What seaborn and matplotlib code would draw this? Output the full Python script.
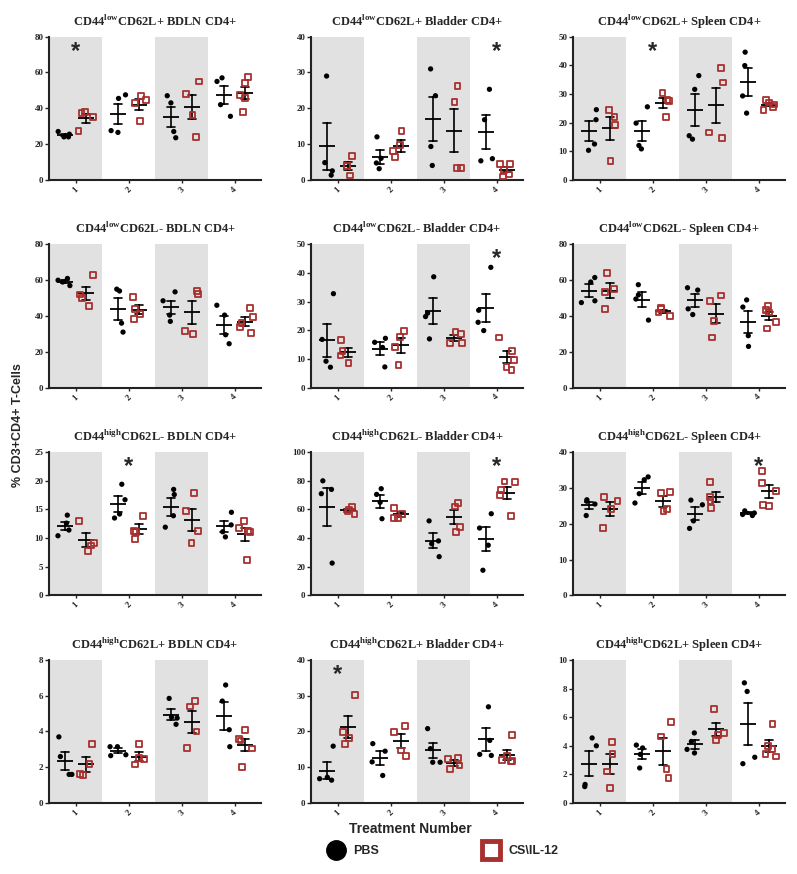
import matplotlib
matplotlib.use("Agg")
import matplotlib.pyplot as plt
import matplotlib.transforms as mtransforms
from matplotlib.lines import Line2D
import numpy as np
import pandas as pd
import seaborn as sns

treatments = ["1", "2", "3", "4"]
groups = ["PBS", "CS\\IL-12"]

# row 1: CD44 low CD62L+
low_pos_bdln_pbs = [[27, 25.5, 24, 24], [47.5, 45.5, 26.5, 27.5], [47, 43, 27, 23.5], [57, 55, 42, 35.5]]
low_pos_bdln_cs = [[37.5, 37.8, 35, 27.2], [47, 44.5, 43, 33], [55, 48, 36, 24], [57.5, 54, 47.5, 45.5, 38]]
low_pos_bladder_pbs = [[29, 4.8, 2.5, 1.3], [12, 6, 4.7, 3.1], [31, 23.5, 9.3, 4], [25.3, 16.8, 5.9, 5.3]]
low_pos_bladder_cs = [[6.6, 3.8, 3.8, 1.2], [13.7, 9.7, 8, 6.4], [26.2, 21.7, 3.3, 3.4], [4.5, 4.3, 2.8, 1.5, 0.9]]
low_pos_spleen_pbs = [[24.5, 21, 12.5, 10.3], [25.5, 19.8, 12, 10.8], [36.4, 31.6, 15.4, 14.2], [44.6, 39.9, 29.3, 23.3]]
low_pos_spleen_cs = [[24.5, 22, 19, 6.6], [30.2, 28, 27.5, 21.8], [39, 34, 16.5, 14.6], [28, 27, 26.3, 25.5, 24.5]]

# row 2: CD44 low CD62L-
low_neg_bdln_pbs = [[61, 60, 59, 57], [55, 54, 36, 31], [53.5, 48.5, 40.5, 37], [46, 40.5, 29.5, 24.5]]
low_neg_bdln_cs = [[63, 52, 50, 45.5], [50.5, 44, 41, 38.5], [54, 52.5, 31.5, 30], [44.5, 39.5, 36, 34, 30.5]]
low_neg_bladder_pbs = [[32.8, 16.8, 9.2, 7.1], [17.2, 15.8, 14, 7.2], [38.7, 26, 24.8, 17], [42, 27, 22.8, 19.9]]
low_neg_bladder_cs = [[16.5, 12.8, 11.2, 8.6], [19.8, 17.6, 14.1, 7.8], [19.3, 18.7, 15.6, 15.6], [17.5, 12.7, 9.7, 7.2, 6]]
low_neg_spleen_pbs = [[61.5, 59, 48.5, 47.5], [57.5, 51.8, 49.5, 37.7], [55.8, 54.5, 44, 40.8], [49, 45, 29, 23]]
low_neg_spleen_cs = [[64, 55, 53.5, 44], [44.3, 44, 42, 40], [51.5, 48.5, 37, 28], [45.5, 43.5, 42, 36.5, 33]]

# row 3: CD44 high CD62L-
high_neg_bdln_pbs = [[14, 12.6, 11.4, 10.4], [19.4, 16.7, 14.2, 13.5], [18.5, 17.6, 13.9, 11.9], [14.5, 12.3, 11.1, 10.2]]
high_neg_bdln_cs = [[13, 9.2, 8.7, 7.7], [13.9, 11.2, 11.1, 9.9], [17.8, 14.7, 11.2, 9.1], [13, 11.8, 11.3, 11, 6.2]]
high_neg_bladder_pbs = [[80, 74, 71, 22.5], [74.5, 70.5, 65, 53.5], [52, 38, 36, 27], [57, 47, 35, 17.5]]
high_neg_bladder_cs = [[62, 60, 58.5, 57], [61, 57, 54, 54], [64.5, 62, 48, 44.5], [79.5, 79, 73.5, 70, 55.5]]
high_neg_spleen_pbs = [[26.7, 26.3, 25.5, 22.3], [33.1, 32.3, 28.4, 25.8], [26.6, 25.3, 20.8, 18.7], [23.6, 23, 22.6, 22.3]]
high_neg_spleen_cs = [[27.4, 26.3, 24.2, 18.8], [28.8, 28.5, 24.1, 23.5], [31.7, 27.4, 26.3, 24.5], [34.7, 31.5, 29.2, 25.2, 24.9]]

# row 4: CD44 high CD62L+
high_pos_bdln_pbs = [[3.7, 2.6, 1.6, 1.6], [3.15, 3.15, 2.7, 2.65], [5.85, 4.8, 4.75, 4.4], [6.6, 5.7, 4.1, 3.15]]
high_pos_bdln_cs = [[3.3, 2.2, 1.6, 1.55], [3.3, 2.5, 2.45, 2.15], [5.7, 5.4, 4, 3.1], [4.1, 3.6, 3.5, 3.05, 2]]
high_pos_bladder_pbs = [[15.9, 7.2, 6.8, 6.4], [16.6, 14.5, 11.5, 7.7], [20.8, 15.2, 11.4, 11.4], [26.9, 17.5, 13.6, 13.3]]
high_pos_bladder_cs = [[30.2, 19.8, 18.2, 16.6], [21.6, 19.8, 14.7, 13.2], [12.5, 12.4, 10.5, 9.5], [19, 13.2, 12, 11.6, 11.7]]
high_pos_spleen_pbs = [[4.55, 4, 1.3, 1.15], [4.05, 3.85, 3.4, 2.45], [4.9, 4.3, 3.75, 3.5], [8.4, 7.8, 3.2, 2.75]]
high_pos_spleen_cs = [[4.25, 3.45, 2.2, 1.05], [5.65, 4.65, 2.4, 1.75], [6.55, 4.9, 4.75, 4.4], [5.5, 4, 3.75, 3.4, 3.25]]

titles = [
    r"CD44$^{\mathrm{low}}$CD62L+ BDLN CD4+", r"CD44$^{\mathrm{low}}$CD62L+ Bladder CD4+", r"CD44$^{\mathrm{low}}$CD62L+ Spleen CD4+",
    r"CD44$^{\mathrm{low}}$CD62L- BDLN CD4+", r"CD44$^{\mathrm{low}}$CD62L- Bladder CD4+", r"CD44$^{\mathrm{low}}$CD62L- Spleen CD4+",
    r"CD44$^{\mathrm{high}}$CD62L- BDLN CD4+", r"CD44$^{\mathrm{high}}$CD62L- Bladder CD4+", r"CD44$^{\mathrm{high}}$CD62L- Spleen CD4+",
    r"CD44$^{\mathrm{high}}$CD62L+ BDLN CD4+", r"CD44$^{\mathrm{high}}$CD62L+ Bladder CD4+", r"CD44$^{\mathrm{high}}$CD62L+ Spleen CD4+",
]
pbs_data = [low_pos_bdln_pbs, low_pos_bladder_pbs, low_pos_spleen_pbs,
            low_neg_bdln_pbs, low_neg_bladder_pbs, low_neg_spleen_pbs,
            high_neg_bdln_pbs, high_neg_bladder_pbs, high_neg_spleen_pbs,
            high_pos_bdln_pbs, high_pos_bladder_pbs, high_pos_spleen_pbs]
cs_data = [low_pos_bdln_cs, low_pos_bladder_cs, low_pos_spleen_cs,
           low_neg_bdln_cs, low_neg_bladder_cs, low_neg_spleen_cs,
           high_neg_bdln_cs, high_neg_bladder_cs, high_neg_spleen_cs,
           high_pos_bdln_cs, high_pos_bladder_cs, high_pos_spleen_cs]
y_max = [80, 40, 50, 80, 50, 80, 25, 100, 40, 8, 40, 10]
y_step = [20, 10, 10, 20, 10, 20, 5, 20, 10, 2, 10, 2]
# treatment index carrying the significance star (None = no star)
stars = [0, 3, 1, None, 3, None, 1, 3, 3, None, 0, None]

RED = "#a8302e"
BAND = "#e1e1e1"


def long_frame(pbs, cs):
    rows = []
    for name, series in zip(groups, [pbs, cs]):
        for t, vals in zip(treatments, series):
            for v in vals:
                rows.append({"treatment": t, "group": name, "value": v})
    return pd.DataFrame(rows)


sns.set_style("ticks")
plt.rcParams["font.family"] = ["Liberation Serif", "DejaVu Serif"]
plt.rcParams["font.weight"] = "bold"
plt.rcParams["mathtext.fontset"] = "custom"
plt.rcParams["mathtext.rm"] = "Liberation Serif:bold"
plt.rcParams["mathtext.bf"] = "Liberation Serif:bold"

np.random.seed(7)
fig, axes = plt.subplots(4, 3, figsize=(7.97, 8.74))
fig.subplots_adjust(left=0.0615, right=0.985, top=0.958, bottom=0.0812, wspace=0.236, hspace=0.452)

for i, ax in enumerate(axes.flat):
    df = long_frame(pbs_data[i], cs_data[i])
    ax.axvspan(-0.5, 0.5, color=BAND, lw=0, zorder=0)
    ax.axvspan(1.5, 2.5, color=BAND, lw=0, zorder=0)

    sns.stripplot(data=df[df.group == groups[0]], x="treatment", y="value", hue="group",
                  order=treatments, hue_order=groups, palette=["black", "black"],
                  dodge=True, jitter=0.3, size=3.8, marker="o", linewidth=0,
                  legend=False, ax=ax, zorder=3)
    n = len(ax.collections)
    sns.stripplot(data=df[df.group == groups[1]], x="treatment", y="value", hue="group",
                  order=treatments, hue_order=groups, palette=[RED, RED],
                  dodge=True, jitter=0.3, size=4.2, marker="s", linewidth=1.3,
                  legend=False, ax=ax, zorder=3)
    for coll in ax.collections[n:]:
        coll.set_facecolor("none")
        coll.set_edgecolor(RED)
        coll.set_linewidth(1.3)

    sns.pointplot(data=df, x="treatment", y="value", hue="group",
                  order=treatments, hue_order=groups, palette=["black", "black"],
                  dodge=0.4, errorbar="se", capsize=0.14, markers="_", markersize=11,
                  markeredgewidth=1.3, linestyles="none", err_kws={"linewidth": 1.2},
                  legend=False, ax=ax)

    ax.set_xlim(-0.5, 3.5)
    ax.set_ylim(0, y_max[i])
    ax.set_yticks(np.arange(0, y_max[i] + y_step[i] / 2, y_step[i]))
    ax.set_xlabel("")
    ax.set_ylabel("")
    ax.set_title(titles[i], fontsize=9, fontweight="bold", pad=8)
    ax.tick_params(axis="y", length=3, width=1, labelsize=6.5, pad=1)
    ax.tick_params(axis="x", length=2, width=1, labelsize=6.5, pad=2, labelrotation=45)
    sns.despine(ax=ax)
    for side in ["left", "bottom"]:
        ax.spines[side].set_linewidth(1.5)
        ax.spines[side].set_color("#222222")

    if stars[i] is not None:
        trans = mtransforms.blended_transform_factory(ax.transData, ax.transAxes)
        ax.text(stars[i], 0.9, "*", transform=trans, ha="center", va="center",
                fontsize=17, fontweight="bold", family="Liberation Sans")

fig.text(18 / 797, 1 - 425 / 874, "% CD3+CD4+ T-Cells", rotation=90, ha="center", va="center",
         fontsize=9, fontweight="bold", family="Liberation Sans")
fig.text(410 / 797, 1 - 829 / 874, "Treatment Number", ha="center", va="center",
         fontsize=10, fontweight="bold", family="Liberation Sans")

handles = [
    Line2D([], [], marker="o", color="black", linestyle="none", markersize=14),
    Line2D([], [], marker="s", markerfacecolor="white", markeredgecolor=RED,
           markeredgewidth=3.5, linestyle="none", markersize=13),
]
fig.legend(handles=handles, labels=groups, loc="center", bbox_to_anchor=(441 / 797, 1 - 851 / 874),
           ncol=2, frameon=False, columnspacing=8, handletextpad=0.4,
           prop={"family": "Liberation Sans", "weight": "bold", "size": 9})

fig.savefig("out.png", dpi=100)
